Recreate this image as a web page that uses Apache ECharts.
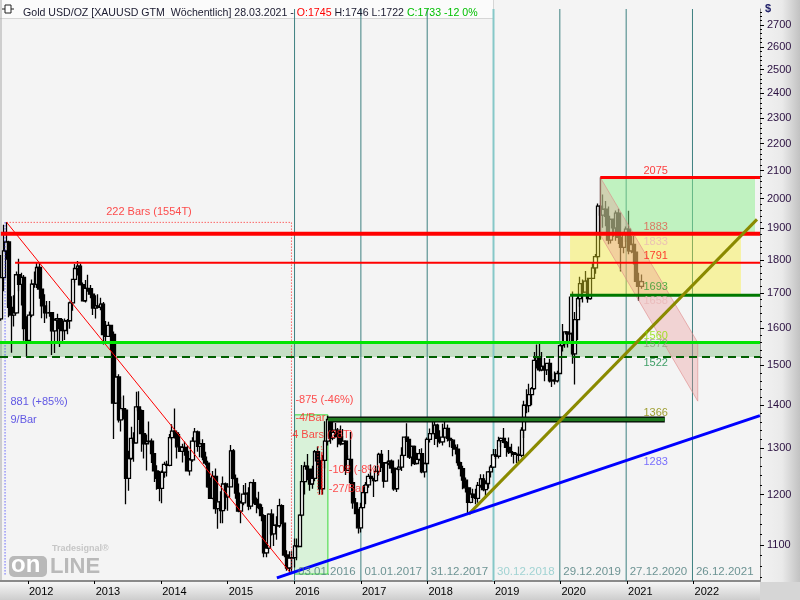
<!DOCTYPE html>
<html><head><meta charset="utf-8">
<script src="https://cdn.jsdelivr.net/npm/echarts@6/dist/echarts.min.js"></script>
<style>html,body{margin:0;padding:0;background:#f4f4f4}#c{width:800px;height:600px}</style>
</head><body><div id="c"></div>
<script>
// ================= DATA =================
// Gold USD/OZ, two-week OHLC bars (first bar centred 2011-08-07, one bar every 14 days)
const barStart = '2011-08-07';
const barStepDays = 14;
const opens = [1625,1745,1828,1856,1658,1636,1642,1754,1725,1746,1598,
1566,1636,1726,1725,1776,1711,1662,1642,1642,1643,1592,1622,1626,1598,1593,1619,1620,1671,1740,1773,1780,1724,1677,1713,1712,1696,1656,
1662,1658,1667,1582,1577,1607,1582,1405,1470,1365,1392,1388,1234,1277,1322,1312,1396,1387,1333,1310,1315,1316,1288,1250,1234,1213,
1247,1264,1262,1324,1339,1335,1303,1293,1302,1293,1250,1274,1316,1337,1304,1310,1280,1267,1216,1192,1238,1171,1185,1167,1222,1195,
1216,1294,1234,1203,1166,1183,1201,1203,1176,1225,1190,1180,1173,1157,1085,1094,1160,1121,1138,1137,1177,1142,1081,1057,1075,1076,
1098,1097,1158,1227,1260,1254,1222,1234,1292,1272,1212,1273,1316,1366,1323,1336,1341,1326,1310,1316,1251,1275,1225,1183,1161,1133,
1173,1204,1220,1238,1234,1229,1249,1286,1268,1228,1267,1271,1256,1212,1254,1258,1284,1325,1320,1280,1304,1266,1275,1288,1248,1266,
1320,1333,1333,1353,1322,1314,1325,1345,1322,1318,1302,1298,1268,1255,1230,1214,1184,1201,1194,1192,1219,1233,1210,1223,1248,1258,
1285,1282,1317,1322,1313,1302,1292,1290,1286,1286,1284,1341,1400,1399,1426,1441,1513,1520,1488,1497,1488,1505,1460,1462,1460,1479,
1552,1557,1589,1584,1585,1530,1623,1683,1727,1702,1735,1683,1743,1775,1810,1975,1944,1964,1940,1862,1930,1902,1951,1871,1839,1882,
1898,1828,1848,1824,1734,1719];
const highs = [1815,1912,1921,1860,1690,1693,1764,1803,1760,1753,1633,
1646,1740,1764,1790,1792,1712,1696,1676,1676,1645,1626,1640,1628,1625,1626,1625,1675,1741,1787,1796,1788,1731,1738,1754,1723,1697,1693,
1696,1686,1673,1619,1617,1608,1590,1487,1477,1421,1424,1392,1294,1349,1336,1433,1434,1390,1342,1331,1361,1322,1288,1262,1250,1251,
1270,1272,1332,1355,1392,1337,1332,1310,1315,1306,1278,1325,1346,1340,1321,1320,1292,1272,1236,1250,1255,1185,1207,1238,1225,1223,
1307,1298,1242,1223,1187,1220,1224,1215,1227,1232,1194,1206,1180,1160,1105,1162,1170,1141,1156,1191,1180,1142,1090,1088,1088,1112,
1112,1160,1263,1270,1287,1254,1261,1296,1304,1280,1285,1362,1375,1371,1367,1358,1346,1352,1344,1318,1284,1337,1235,1193,1171,1183,
1220,1226,1244,1264,1235,1261,1290,1296,1268,1270,1296,1275,1258,1256,1275,1302,1326,1357,1320,1306,1306,1290,1298,1300,1268,1324,
1345,1366,1362,1356,1341,1356,1365,1354,1326,1321,1308,1309,1270,1261,1236,1217,1215,1212,1212,1226,1243,1243,1230,1250,1263,1298,
1298,1326,1324,1346,1316,1324,1310,1290,1290,1304,1348,1411,1439,1453,1445,1535,1555,1557,1535,1519,1505,1517,1479,1484,1486,1553,
1611,1590,1590,1689,1704,1645,1690,1748,1740,1765,1745,1745,1789,1818,1984,2075,2015,1992,1973,1933,1933,1960,1966,1875,1889,1906,
1959,1875,1875,1826,1760,1755];
const lows = [1620,1705,1800,1630,1533,1604,1640,1705,1663,1565,1522,
1565,1630,1715,1714,1683,1627,1614,1626,1631,1527,1532,1564,1548,1564,1567,1583,1598,1648,1730,1752,1722,1675,1672,1703,1684,1636,1626,
1656,1650,1555,1562,1575,1540,1321,1403,1359,1338,1366,1180,1208,1274,1270,1310,1365,1292,1277,1251,1310,1267,1226,1210,1186,1182,
1235,1238,1260,1319,1322,1277,1292,1268,1283,1249,1240,1270,1312,1292,1280,1273,1262,1214,1191,1190,1161,1131,1142,1142,1170,1167,
1215,1232,1191,1164,1142,1178,1183,1168,1170,1181,1162,1170,1146,1077,1077,1092,1118,1098,1110,1133,1140,1077,1052,1046,1046,1058,
1071,1096,1155,1200,1230,1208,1212,1228,1262,1200,1200,1255,1306,1310,1318,1324,1302,1306,1310,1241,1250,1222,1171,1160,1122,1124,
1172,1180,1214,1225,1195,1227,1240,1256,1214,1228,1262,1245,1208,1205,1249,1250,1280,1314,1276,1260,1263,1264,1272,1245,1236,1265,
1313,1332,1307,1302,1310,1306,1321,1315,1302,1282,1286,1261,1238,1211,1204,1160,1182,1187,1180,1183,1214,1207,1196,1212,1236,1256,
1276,1277,1302,1311,1281,1287,1281,1266,1267,1267,1280,1323,1381,1383,1400,1438,1492,1484,1485,1459,1475,1456,1445,1451,1456,1477,
1536,1546,1547,1563,1504,1451,1567,1660,1672,1702,1671,1680,1741,1757,1805,1863,1902,1907,1849,1851,1873,1860,1850,1764,1820,1856,
1817,1820,1785,1717,1677,1712];
const closes = [1745,1828,1856,1658,1636,1642,1754,1725,1746,1598,1566,
1636,1726,1725,1776,1711,1662,1642,1642,1643,1592,1622,1626,1598,1593,1619,1620,1671,1740,1773,1780,1724,1677,1713,1712,1696,1656,1662,
1658,1667,1582,1577,1607,1582,1405,1470,1365,1392,1388,1234,1277,1322,1312,1396,1387,1333,1310,1315,1316,1288,1250,1234,1213,1247,
1264,1262,1324,1339,1335,1303,1293,1302,1293,1250,1274,1316,1337,1304,1310,1280,1267,1216,1192,1238,1171,1185,1167,1222,1195,1216,
1294,1234,1203,1166,1183,1201,1203,1176,1225,1190,1180,1173,1157,1085,1094,1160,1121,1138,1137,1177,1142,1081,1057,1075,1076,1098,
1097,1158,1227,1260,1254,1222,1234,1292,1272,1212,1273,1316,1366,1323,1336,1341,1326,1310,1316,1251,1275,1225,1183,1161,1133,1173,
1204,1220,1238,1234,1229,1249,1286,1268,1228,1267,1271,1256,1212,1254,1258,1284,1325,1320,1280,1304,1266,1275,1288,1248,1266,1320,
1333,1333,1353,1322,1314,1325,1345,1322,1318,1302,1298,1268,1255,1230,1214,1184,1201,1194,1192,1219,1233,1210,1223,1248,1258,1285,
1282,1317,1322,1313,1302,1292,1290,1286,1286,1284,1341,1400,1399,1426,1441,1513,1520,1488,1497,1488,1505,1460,1462,1460,1479,1552,
1557,1589,1584,1585,1530,1623,1683,1727,1702,1735,1683,1743,1775,1810,1975,1944,1964,1940,1862,1930,1902,1951,1871,1839,1882,1898,
1828,1848,1824,1734,1719,1733];

// Horizontal levels (price, first date; they run to the right edge)
const levelPrices = [2075, 1883, 1791, 1693, 1560, 1522];
const levelStarts = ['2020-08-07', '2011-08-05', '2011-10-22', '2020-02-23', null, null];

// Level labels written at the last bar
const levelLabelDate = '2021-03-29';
const levelLabelValues = [2075, 1883, 1833, 1791, 1693, 1658, 1560, 1572, 1522, 1366, 1283];

// Year-start vertical lines and their labels
const vLineDates = ['2016-01-03', '2017-01-01', '2017-12-31', '2018-12-30', '2019-12-29', '2020-12-27', '2021-12-26'];
const vLineLabels = ['03.01.2016', '01.01.2017', '31.12.2017', '30.12.2018', '29.12.2019', '27.12.2020', '26.12.2021'];

// Axis ticks
const yearTicks = ['2012-01-01','2013-01-01','2014-01-01','2015-01-01','2016-01-01','2017-01-01','2018-01-01','2019-01-01','2020-01-01','2021-01-01','2022-01-01'];
const yearLabels = ['2012','2013','2014','2015','2016','2017','2018','2019','2020','2021','2022'];
const priceTicks = [1100,1200,1300,1400,1500,1600,1700,1800,1900,2000,2100,2200,2300,2400,2500,2600,2700];
const priceMinorTicks = [1040,1060,1080,1100,1120,1140,1160,1180,1200,1220,1240,1260,1280,1300,1320,1340,1360,1380,1400,1420,1440,1460,1480,1500,1520,1540,1560,1580,1600,1620,1640,1660,1680,1700,1720,1740,1760,1780,1800,1820,1840,1860,1880,1900,1920,1940,1960,1980,2000,2020,2040,2060,2080,2100,2120,2140,2160,2180,2200,2220,2240,2260,2280,2300,2320,2340,2360,2380,2400,2420,2440,2460,2480,2500,2520,2540,2560,2580,2600,2620,2640,2660,2680,2700,2720,2740,2760];

// Drawn tools (date, price corners)
const measureRect = [['2011-09-06', 1920], ['2015-12-17', 1920], ['2015-12-17', 1046]];
const measureDiag = [['2011-09-06', 1920], ['2015-12-17', 1046]];
const measureLeft = [['2011-08-28', 1920], ['2011-08-28', 1044]];
const box2016 = [['2016-01-03', 1046], ['2016-07-04', 1046], ['2016-07-04', 1377], ['2016-01-03', 1377]];
const smallRect2016 = [['2016-05-10', 1303], ['2016-06-01', 1303], ['2016-06-01', 1200], ['2016-05-10', 1200], ['2016-05-10', 1303]];
const smallLine2016 = [['2016-06-01', 1290], ['2016-06-01', 1200]];
const bar1366 = [['2016-07-04', 1366], ['2021-07-27', 1366]];
const supportBlue = [['2015-09-28', 1039], ['2022-12-31', 1375]];
const supportOlive = [['2018-08-16', 1160], ['2022-12-15', 1930]];
const targetZone = [['2020-08-07', 1883], ['2022-12-04', 1883], ['2022-12-04', 2075], ['2020-08-07', 2075]];
const retraceZone = [['2020-02-23', 1693], ['2022-09-18', 1693], ['2022-09-18', 1883], ['2020-02-23', 1883]];
const downChannel = [['2020-08-07', 2075], ['2022-01-24', 1560], ['2022-01-24', 1410], ['2020-08-07', 1879]];
const bandTop = 1560, bandBottom = 1522;

// Annotation texts and their anchors
const noteTexts = ['222 Bars (1554T)', '881 (+85%)', '9/Bar', '-875 (-46%)', '-4/Bar', '4 Bars (28T)', '-108 (-8%)', '-27/Bar'];
const noteAnchors = [['2013-10-26', 1954], ['2011-09-24', 1409], ['2011-09-24', 1366], ['2016-01-05', 1413], ['2016-01-05', 1369], ['2015-12-18', 1330], ['2016-07-06', 1252], ['2016-07-06', 1211]];

// ================= STYLE / LAYOUT =================
const FONT = 'Liberation Sans';
const DAY = 86400000;
const T = s => {
  if (typeof s === 'number') return s;
  const p = s.split('-').map(Number);
  return Date.UTC(p[0], p[1] - 1, p[2]);
};
const X0 = T('2012-01-01');
const xMin = X0 - 153.7 * DAY, xMax = X0 + 4017.6 * DAY;
const yMin = 1033.5, yMax = 2775.6;
const L10 = Math.log10;

const levelStyles = [
  {color:'#ff0000', width:3}, {color:'#ff0000', width:4}, {color:'#ff0000', width:2},
  {color:'#007800', width:3}, {color:'#00e400', width:3}, {color:'#006000', width:2, type:[8,5]}
];
const levelLabelColors = ['#ff1010','#e05a4a','#e8b6b6','#ff1010','#2e9a2e','#e8b6b6','#8ee000','#8f9a78','#118844','#8a8a00','#5a4cff'];
const levelLabelDy = [-6,-7,-7,-7,-8,-6,-7,6,6,-7,6];
const noteColors = ['#ff2020','#3a2ee0','#3a2ee0','#ff2020','#ff2020','#ff2020','#ff2020','#ff2020'];

function lineSeries(pts, st, z) {
  return { type:'line', data: pts.map(p => [T(p[0]), p[1]]), symbol:'none', silent:true, z: z || 4,
    animation:false, lineStyle:{ color: st.color, width: st.width, type: st.type || 'solid' } };
}
function shapeSeries(pts, st, z) {
  const P = pts.map(p => [T(p[0]), p[1]]);
  return { type:'custom', z: z, silent:true, clip:true, data:[P[0]], encode:{x:0, y:1},
    renderItem: (params, api) => ({
      type: st.fill ? 'polygon' : 'polyline',
      shape: { points: P.map(q => api.coord(q)) },
      style: { fill: st.fill || 'none', stroke: st.stroke || 'none', lineWidth: st.width || 1, lineDash: st.dash || null }
    }) };
}

const candleData = opens.map((o, i) => [T(barStart) + i * barStepDays * DAY, o, closes[i], lows[i], highs[i]]);

const series = [];
vLineDates.forEach((d, i) => series.push(lineSeries([[d, yMin], [d, yMax]],
  i === 3 ? {color:'#86c8c8', width:2} : {color:'#3d8080', width:1}, 1)));
series.push(shapeSeries([[xMin, bandBottom], [xMax, bandBottom], [xMax, bandTop], [xMin, bandTop]], {fill:'rgba(60,160,60,0.26)'}, 1));
series.push(shapeSeries(box2016, {fill:'#d9f2d9', stroke:'#3ada3a', width:1}, 1));
series.push({ type:'candlestick', name:'XAUUSD', data: candleData, dimensions:['date','open','close','low','high'],
  encode:{x:'date', y:['open','close','low','high']}, barWidth: 3.6, z: 2, silent:true,
  itemStyle:{ color:'#ffffff', color0:'#000000', borderColor:'#000000', borderColor0:'#000000', borderWidth:1.3 } });
series.push(shapeSeries(targetZone, {fill:'rgba(140,240,140,0.5)'}, 3));
series.push(shapeSeries(retraceZone, {fill:'rgba(250,240,40,0.4)'}, 3));
series.push(shapeSeries(downChannel, {fill:'rgba(235,150,150,0.35)', stroke:'rgba(220,130,130,0.55)', width:1}, 3));
series.push(shapeSeries(measureRect, {stroke:'#ff2020', width:1, dash:[1,2]}, 4));
series.push(shapeSeries(measureLeft, {stroke:'#2020ff', width:1, dash:[1,2]}, 4));
series.push(lineSeries(measureDiag, {color:'#ff0000', width:1}, 4));
series.push(shapeSeries(smallRect2016, {stroke:'#ff2020', width:1, dash:[1,2]}, 4));
series.push(lineSeries(smallLine2016, {color:'#ff0000', width:1}, 4));
levelPrices.forEach((p, i) => series.push(lineSeries([[levelStarts[i] || xMin, p], [xMax, p]], levelStyles[i], 4)));
series.push(lineSeries(bar1366, {color:'#000000', width:6}, 4));
series.push(lineSeries(bar1366, {color:'#1f7a1f', width:3.5}, 4));
series.push(lineSeries(supportOlive, {color:'#8a8a00', width:3}, 5));
series.push(lineSeries(supportBlue, {color:'#0000ff', width:3}, 5));
const lab = (items) => ({ type:'scatter', symbolSize:1, itemStyle:{color:'rgba(0,0,0,0)'}, silent:true, z:6, data: items,
  label:{ show:true, position:'right', distance:0, formatter:'{b}', fontFamily:FONT, fontSize:11 } });
series.push(lab(levelLabelValues.map((v, i) => ({ name:String(v), value:[T(levelLabelDate), v],
  label:{ color: levelLabelColors[i], offset:[0, levelLabelDy[i]] } }))));
series.push(lab(vLineDates.map((d, i) => ({ name: vLineLabels[i], value:[T(d), 1050],
  label:{ color: i === 3 ? '#8ccaca' : '#4a7a7a', distance:3, fontSize:11.5 } }))));
series.push(lab(noteTexts.map((t, i) => ({ name: t, value:[T(noteAnchors[i][0]), noteAnchors[i][1]],
  label: i === 0 ? { color: noteColors[i], position:'inside', align:'center' } : { color: noteColors[i] } }))));

const chart = echarts.init(document.getElementById('c'));
chart.setOption({
  animation:false,
  backgroundColor:'#f4f4f4',
  textStyle:{ fontFamily: FONT },
  title:{ left:18, top:3, text:'{a|Gold USD/OZ [XAUUSD GTM  Wöchentlich] 28.03.2021 - }{r|O:1745}{a| H:1746 L:1722 }{g|C:1733 -12 0%}',
    textStyle:{ fontSize:10.6, fontWeight:'normal', fontFamily:FONT,
      rich:{ a:{ color:'#1b1b30', fontSize:10.6, fontFamily:FONT }, r:{ color:'#ff0000', fontSize:10.6, fontFamily:FONT }, g:{ color:'#00c000', fontSize:10.6, fontFamily:FONT } } } },
  grid:{ left:0, right:40, top:9, bottom:19, containLabel:false },
  xAxis:{ type:'value', min:xMin, max:xMax, splitLine:{show:false},
    axisLine:{ show:true, lineStyle:{ color:'#8a8a8a', width:2 } },
    axisTick:{ show:true, customValues: yearTicks.map(T), length:3, lineStyle:{ color:'#000' } },
    axisLabel:{ customValues: yearTicks.map(T), align:'left', margin:5, fontSize:11, color:'#000', fontFamily:FONT, padding:[0,0,0,1],
      formatter: v => { let k = 0; yearTicks.forEach((s, i) => { if (Math.abs(T(s) - v) < 2 * DAY) k = i; }); return yearLabels[k]; } } },
  yAxis:[
    { type:'log', logBase:10, min:yMin, max:yMax, show:false },
    { type:'value', min:L10(yMin), max:L10(yMax), position:'right', splitLine:{show:false},
      axisLine:{ show:true, lineStyle:{ color:'#8a8a8a', width:1 } },
      axisTick:{ show:true, customValues: priceMinorTicks.map(L10), length:2, lineStyle:{ color:'#000' } },
      axisLabel:{ show:false } },
    { type:'value', min:L10(yMin), max:L10(yMax), position:'right', splitLine:{show:false},
      axisLine:{ show:false },
      axisTick:{ show:true, customValues: priceTicks.map(L10), length:4, lineStyle:{ color:'#000' } },
      axisLabel:{ customValues: priceTicks.map(L10), margin:7, fontSize:11, color:'#2a1040', fontFamily:FONT,
        formatter: v => String(Math.round(Math.pow(10, v))) } }
  ],
  graphic:{ elements:[
    { type:'rect', z:-10, shape:{x:0, y:0, width:493, height:18}, style:{ fill:'#fbfbfb' } },
    { type:'line', z:-9, shape:{x1:0, y1:18.5, x2:493, y2:18.5}, style:{ stroke:'#d6d6d6', lineWidth:1 } },
    { type:'line', z:-9, shape:{x1:493.5, y1:0, x2:493.5, y2:18.5}, style:{ stroke:'#d6d6d6', lineWidth:1 } },
    { type:'line', z:-9, shape:{x1:1, y1:0, x2:1, y2:581}, style:{ stroke:'#a8a8a8', lineWidth:1 } },
    { type:'rect', z:-10, shape:{x:760, y:0, width:40, height:582},
      style:{ fill: new echarts.graphic.LinearGradient(0,0,1,0,[{offset:0,color:'#f2f2f2'},{offset:0.55,color:'#eaeaea'},{offset:1,color:'#c2c2c2'}]) } },
    { type:'rect', z:-10, shape:{x:0, y:582, width:760, height:18},
      style:{ fill: new echarts.graphic.LinearGradient(0,0,0,1,[{offset:0,color:'#f6f6f6'},{offset:1,color:'#cdcdcd'}]) } },
    { type:'rect', z:-10, shape:{x:760, y:582, width:40, height:18}, style:{ fill:'#d6d6d6' } },
    { type:'text', z:10, left:765, top:3, style:{ text:'$', fill:'#22226a', font:'bold 11px "Liberation Sans"' } },
    { type:'rect', z:10, shape:{x:5, y:5, width:6, height:8}, style:{ fill:'#fff', stroke:'#222', lineWidth:1 } },
    { type:'line', z:10, shape:{x1:2, y1:9, x2:5, y2:9}, style:{ stroke:'#222' } },
    { type:'line', z:10, shape:{x1:11, y1:9, x2:14, y2:9}, style:{ stroke:'#222' } },
    { type:'text', z:0, left:52, top:544, style:{ text:'Tradesignal®', fill:'#c6c6c6', font:'bold 9px "Liberation Sans"' } },
    { type:'rect', z:0, shape:{x:9, y:556, width:38, height:21, r:5}, style:{ fill:'#b9b9b9' } },
    { type:'text', z:1, left:11, top:553, style:{ text:'on', fill:'#ffffff', font:'bold 24px "Liberation Sans"' } },
    { type:'text', z:1, left:50, top:556, style:{ text:'LINE', fill:'#b9b9b9', font:'bold 22px "Liberation Sans"' } }
  ] },
  series: series
});
</script></body></html>
